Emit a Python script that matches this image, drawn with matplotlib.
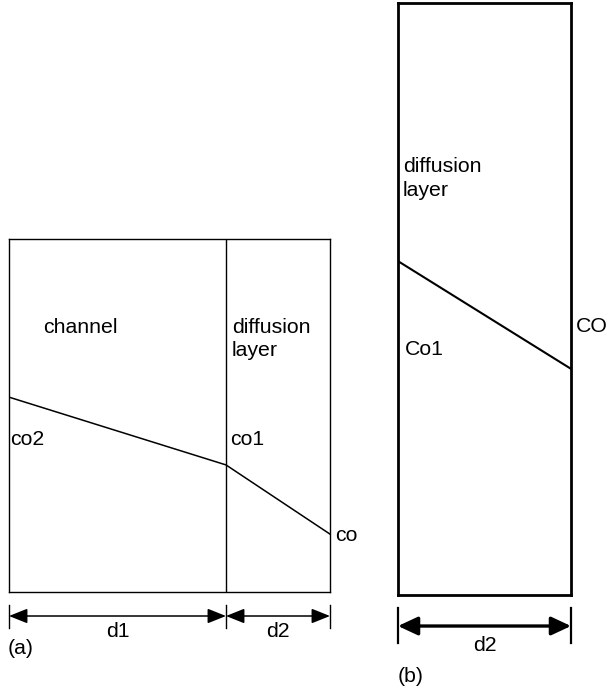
import matplotlib
matplotlib.use("Agg")
import matplotlib.pyplot as plt

plt.rcParams["font.family"] = ["Liberation Sans", "DejaVu Sans"]

# panel (a): channel + diffusion layer, normalised distance / concentration
a_bounds = [0.0, 0.676, 1.0]
a_conc = [0.552, 0.360, 0.164]
a_point_labels = ["co2", "co1", "co"]
a_span_labels = ["d1", "d2"]

# panel (b): diffusion layer only
b_bounds = [0.0, 1.0]
b_conc = [0.564, 0.382]
b_point_labels = ["Co1", "CO"]
b_span_labels = ["d2"]

FS = 15.3

fig = plt.figure(figsize=(6.1, 6.91), dpi=100)


def frame(ax, lw):
    ax.set_xlim(0, 1)
    ax.set_ylim(0, 1)
    ax.set_xticks([])
    ax.set_yticks([])
    for s in ax.spines.values():
        s.set_linewidth(lw)


def dim_line(ax, bounds, labels, y, tick_lo, tick_hi, label_y, lw, scale, hw):
    for x in bounds:
        ax.plot([x, x], [tick_lo, tick_hi], color="black", lw=1.0 if lw < 1.5 else 1.6,
                clip_on=False)
    for x0, x1, lab in zip(bounds[:-1], bounds[1:], labels):
        ax.annotate("", xy=(x1, y), xytext=(x0, y), annotation_clip=False,
                    arrowprops=dict(arrowstyle=f"<|-|>,head_length=0.75,head_width={hw}",
                                    color="black", lw=lw, shrinkA=0, shrinkB=0,
                                    mutation_scale=scale))
        ax.text((x0 + x1) / 2, label_y, lab, ha="center", va="center", fontsize=FS)


# ---- (a)
ax_a = fig.add_axes([9 / 610, 99 / 691, 321 / 610, 353 / 691])
frame(ax_a, 1.0)
ax_a.axvline(a_bounds[1], color="black", lw=1.0)
ax_a.plot(a_bounds, a_conc, color="black", lw=1.1)
ax_a.text(0.106, 0.748, "channel", fontsize=FS, va="center")
ax_a.text(0.695, 0.748, "diffusion", fontsize=FS, va="center")
ax_a.text(0.695, 0.683, "layer", fontsize=FS, va="center")
ax_a.text(0.003, 0.431, a_point_labels[0], fontsize=FS, va="center")
ax_a.text(0.688, 0.431, a_point_labels[1], fontsize=FS, va="center")
ax_a.text(1.016, 0.161, a_point_labels[2], fontsize=FS, va="center", clip_on=False)
dim_line(ax_a, a_bounds, a_span_labels, -0.068, -0.037, -0.102, -0.113, 1.1, 15, 0.3)
ax_a.text(-0.003, -0.159, "(a)", fontsize=FS, va="center")

# ---- (b)
ax_b = fig.add_axes([398 / 610, 96 / 691, 173 / 610, 592 / 691])
frame(ax_b, 2.0)
ax_b.plot(b_bounds, b_conc, color="black", lw=1.5)
ax_b.text(0.029, 0.723, "diffusion", fontsize=FS, va="center")
ax_b.text(0.029, 0.684, "layer", fontsize=FS, va="center")
ax_b.text(0.04, 0.414, b_point_labels[0], fontsize=FS, va="center")
ax_b.text(1.029, 0.453, b_point_labels[1], fontsize=FS, va="center", clip_on=False)
dim_line(ax_b, b_bounds, b_span_labels, -0.0524, -0.022, -0.081, -0.0845, 2.4, 16, 0.35)
ax_b.text(0.0, -0.1385, "(b)", fontsize=FS, va="center")

fig.savefig("out.png", dpi=100)
